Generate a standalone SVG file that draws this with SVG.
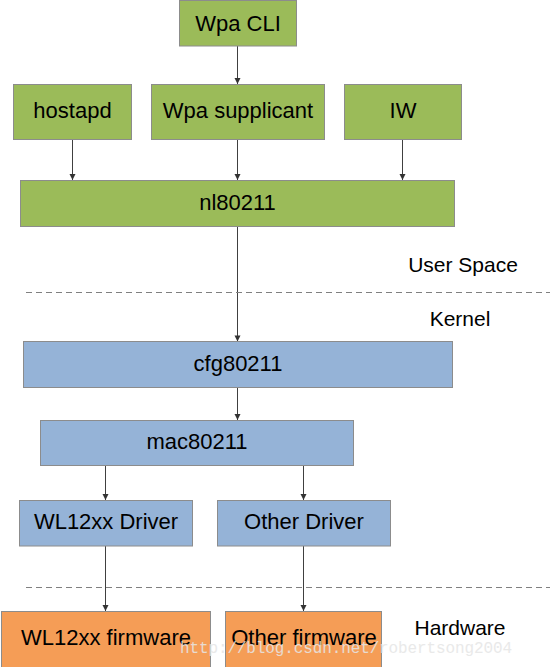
<svg xmlns="http://www.w3.org/2000/svg" width="550" height="667" viewBox="0 0 550 667">
<defs>
<marker id="arr" markerWidth="8" markerHeight="8" refX="7" refY="4" orient="auto" markerUnits="userSpaceOnUse">
<path d="M1,1 L7,4 L1,7 Z" fill="#333"/>
</marker>
</defs>
<style>
.box{stroke:#8c8c8c;stroke-width:1}
.g{fill:#9bbb59}
.b{fill:#95b3d7}
.o{fill:#f59d56}
.t{font-family:"Liberation Sans",Arial,sans-serif;font-size:22px;fill:#000;text-anchor:middle}
.lab{font-family:"Liberation Sans",Arial,sans-serif;font-size:21px;fill:#000;text-anchor:middle}
.c{stroke:#404040;stroke-width:1;fill:none;marker-end:url(#arr)}
.d{stroke:#808080;stroke-width:1;stroke-dasharray:6,4;fill:none}
</style>
<rect width="550" height="667" fill="#fff"/>
<g id="connectors">
<line class="c" x1="237.5" y1="46" x2="237.5" y2="84"/>
<line class="c" x1="72.5" y1="139" x2="72.5" y2="180"/>
<line class="c" x1="237.5" y1="139" x2="237.5" y2="180"/>
<line class="c" x1="402.5" y1="139" x2="402.5" y2="180"/>
<line class="c" x1="237.5" y1="226" x2="237.5" y2="341.5"/>
<line class="c" x1="237.5" y1="387.5" x2="237.5" y2="420"/>
<line class="c" x1="105.5" y1="465.5" x2="105.5" y2="500"/>
<line class="c" x1="303.5" y1="465.5" x2="303.5" y2="500"/>
<line class="c" x1="105.5" y1="546" x2="105.5" y2="611"/>
<line class="c" x1="303.5" y1="546" x2="303.5" y2="611"/>
</g>
<g id="dividers">
<line class="d" x1="26" y1="292.5" x2="550" y2="292.5"/>
<line class="d" x1="26" y1="587.5" x2="550" y2="587.5"/>
</g>
<g id="wpa-cli"><rect class="box g" x="179.5" y="0.5" width="117" height="45.5"/><text class="t" x="238" y="31">Wpa CLI</text></g>
<g id="hostapd"><rect class="box g" x="13.5" y="84.5" width="118" height="55"/><text class="t" x="72.5" y="118">hostapd</text></g>
<g id="wpa-supplicant"><rect class="box g" x="151.5" y="84.5" width="173" height="55"/><text class="t" x="238" y="118">Wpa supplicant</text></g>
<g id="iw"><rect class="box g" x="344.5" y="84.5" width="117" height="55"/><text class="t" x="403" y="118">IW</text></g>
<g id="nl80211"><rect class="box g" x="20.5" y="180.5" width="434" height="46"/><text class="t" x="237.5" y="210">nl80211</text></g>
<g id="cfg80211"><rect class="box b" x="23.5" y="341.5" width="429" height="46"/><text class="t" x="238" y="371">cfg80211</text></g>
<g id="mac80211"><rect class="box b" x="40.5" y="420.5" width="313" height="45"/><text class="t" x="197" y="449">mac80211</text></g>
<g id="wl12xx-driver"><rect class="box b" x="19.5" y="500.5" width="173" height="45.5"/><text class="t" x="106" y="529">WL12xx Driver</text></g>
<g id="other-driver"><rect class="box b" x="217.5" y="500.5" width="173" height="45.5"/><text class="t" x="304" y="529">Other Driver</text></g>
<g id="wl12xx-firmware"><rect class="box o" x="1.5" y="611.5" width="209" height="60"/><text class="t" x="106" y="645">WL12xx firmware</text></g>
<g id="other-firmware"><rect class="box o" x="225.5" y="611.5" width="156" height="60"/><text class="t" x="304" y="645">Other firmware</text></g>
<g id="labels">
<text class="lab" x="463" y="272">User Space</text>
<text class="lab" x="460" y="326">Kernel</text>
<text class="lab" x="460" y="635">Hardware</text>
</g>
<text x="180" y="653" font-family="'Liberation Mono',monospace" font-size="16" fill="#e6e6e6" opacity="0.85" textLength="332">http://blog.csdn.net/robertsong2004</text>
</svg>
